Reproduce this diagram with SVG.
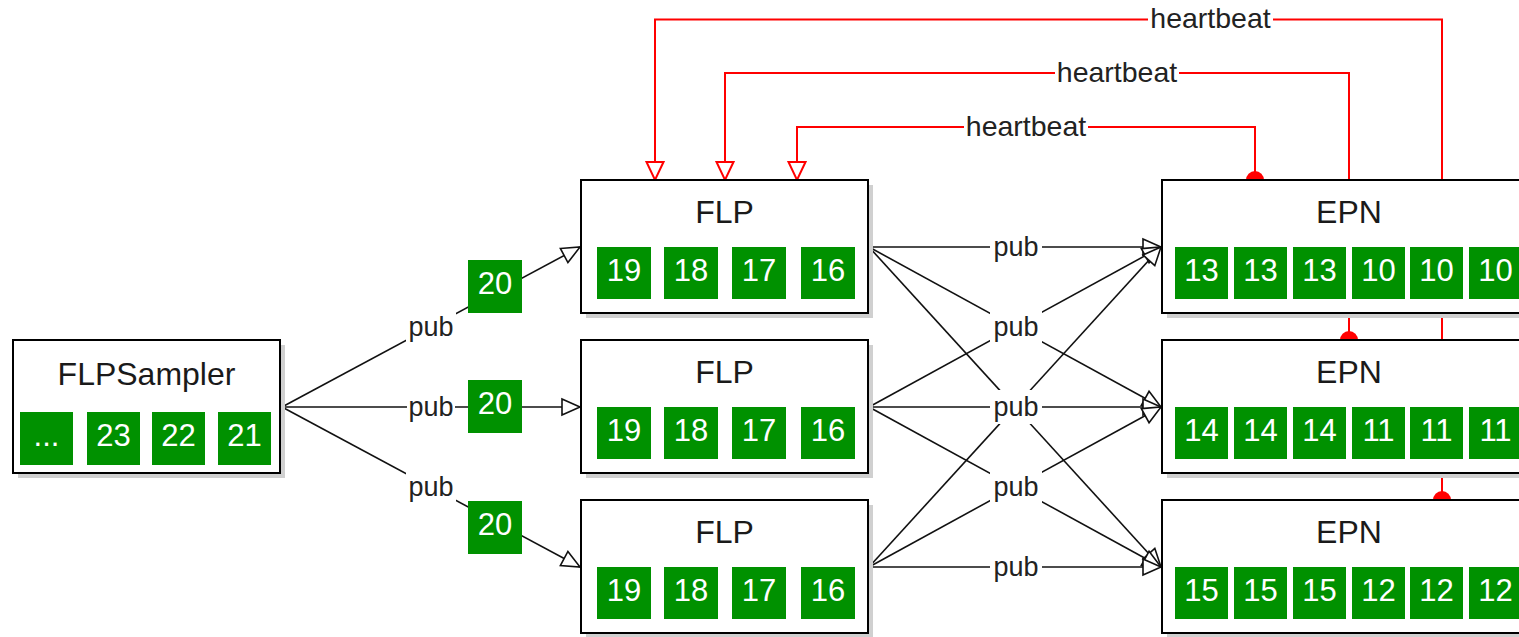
<svg xmlns="http://www.w3.org/2000/svg" width="1519" height="637" viewBox="0 0 1519 637">
<style>
text{font-family:"Liberation Sans",Arial,Helvetica,sans-serif}
.box{fill:#fff;stroke:#000;stroke-width:2}
.sh{fill:#d0d0d0}
.sq{fill:#009100}
.num{fill:#fff;font-size:31px;text-anchor:middle}
.title{fill:#1a1a1a;font-size:32px;text-anchor:middle}
.lbl{fill:#222;font-size:27px;text-anchor:middle}
.hb{fill:#222;font-size:28.5px;text-anchor:middle}
.bg{fill:#fff}
.pl{stroke:#111;stroke-width:1.6;fill:none;marker-end:url(#ab)}
.rl{stroke:#ff0000;stroke-width:2;fill:none;marker-end:url(#ar)}
</style>
<defs>
<marker id="ab" markerUnits="userSpaceOnUse" markerWidth="24" markerHeight="22" refX="20" refY="10" orient="auto">
<path d="M2,2 L20,10 L2,18 Z" fill="#fff" stroke="#111" stroke-width="1.6"/>
</marker>
<marker id="ar" markerUnits="userSpaceOnUse" markerWidth="24" markerHeight="22" refX="20" refY="10" orient="auto">
<path d="M2,1.5 L20,10 L2,18.5 Z" fill="#fff" stroke="#ff0000" stroke-width="2"/>
</marker>
</defs>
<rect width="1519" height="637" fill="#fff"/>
<g id="connectors">
<!-- sampler to FLPs -->
<line class="pl" x1="282" y1="407" x2="580" y2="247"/>
<line class="pl" x1="282" y1="407" x2="580" y2="407"/>
<line class="pl" x1="282" y1="407" x2="580" y2="567"/>
<!-- FLP to EPN -->
<line class="pl" x1="869" y1="247" x2="1161" y2="247"/>
<line class="pl" x1="869" y1="247" x2="1161" y2="407"/>
<line class="pl" x1="869" y1="247" x2="1161" y2="567"/>
<line class="pl" x1="869" y1="407" x2="1161" y2="247"/>
<line class="pl" x1="869" y1="407" x2="1161" y2="407"/>
<line class="pl" x1="869" y1="407" x2="1161" y2="567"/>
<line class="pl" x1="869" y1="567" x2="1161" y2="247"/>
<line class="pl" x1="869" y1="567" x2="1161" y2="407"/>
<line class="pl" x1="869" y1="567" x2="1161" y2="567"/>
<!-- pub labels -->
<rect class="bg" x="406" y="311" width="50" height="32"/><text class="lbl" x="431" y="336">pub</text>
<rect class="bg" x="407" y="391" width="48" height="32"/><text class="lbl" x="431" y="416">pub</text>
<rect class="bg" x="406" y="471" width="50" height="32"/><text class="lbl" x="431" y="496">pub</text>
<rect class="bg" x="990" y="231" width="52" height="32"/><text class="lbl" x="1016" y="256">pub</text>
<rect class="bg" x="990" y="310" width="52" height="34"/><text class="lbl" x="1016" y="336">pub</text>
<rect class="bg" x="990" y="390" width="52" height="34"/><text class="lbl" x="1016" y="416">pub</text>
<rect class="bg" x="990" y="470" width="52" height="34"/><text class="lbl" x="1016" y="496">pub</text>
<rect class="bg" x="990" y="551" width="52" height="32"/><text class="lbl" x="1016" y="576">pub</text>
<!-- heartbeats -->
<path class="rl" d="M1255,180 V127 H797 V180"/>
<path class="rl" d="M1349,340 V73 H725 V180"/>
<path class="rl" d="M1442,500 V19.5 H655 V180"/>
<circle cx="1255" cy="180" r="9" fill="#ff0000"/>
<circle cx="1349" cy="340" r="9" fill="#ff0000"/>
<circle cx="1442" cy="500" r="9" fill="#ff0000"/>
<rect class="bg" x="964" y="112" width="124" height="30"/><text class="hb" x="1026" y="136">heartbeat</text>
<rect class="bg" x="1055" y="58" width="124" height="30"/><text class="hb" x="1117" y="82">heartbeat</text>
<rect class="bg" x="1148" y="4" width="125" height="30"/><text class="hb" x="1210.5" y="28">heartbeat</text>
</g>
<g id="samples">
<rect class="sq" x="468" y="260" width="54" height="53"/><text class="num" x="495" y="294">20</text>
<rect class="sq" x="468" y="380" width="54" height="53"/><text class="num" x="495" y="414">20</text>
<rect class="sq" x="468" y="501" width="54" height="53"/><text class="num" x="495" y="535">20</text>
</g>
<g id="flpsampler">
<rect class="sh" x="18" y="345" width="267" height="133"/>
<rect class="box" x="13" y="340" width="267" height="133"/>
<text class="title" x="146.5" y="385">FLPSampler</text>
<rect class="sq" x="20" y="412" width="53" height="53"/><text class="num" x="46.5" y="446">...</text>
<rect class="sq" x="87" y="412" width="53" height="53"/><text class="num" x="113.5" y="446">23</text>
<rect class="sq" x="152" y="412" width="53" height="53"/><text class="num" x="178.5" y="446">22</text>
<rect class="sq" x="218" y="412" width="53" height="53"/><text class="num" x="244.5" y="446">21</text>
</g>
<g id="flp1">
<rect class="sh" x="586" y="185" width="287" height="133"/>
<rect class="box" x="581" y="180" width="287" height="133"/>
<text class="title" x="724.5" y="223">FLP</text>
<rect class="sq" x="597" y="247" width="54" height="52"/><text class="num" x="624" y="281">19</text>
<rect class="sq" x="664" y="247" width="54" height="52"/><text class="num" x="691" y="281">18</text>
<rect class="sq" x="732" y="247" width="54" height="52"/><text class="num" x="759" y="281">17</text>
<rect class="sq" x="801" y="247" width="54" height="52"/><text class="num" x="828" y="281">16</text>
</g>
<g id="flp2">
<rect class="sh" x="586" y="345" width="287" height="133"/>
<rect class="box" x="581" y="340" width="287" height="133"/>
<text class="title" x="724.5" y="383">FLP</text>
<rect class="sq" x="597" y="407" width="54" height="52"/><text class="num" x="624" y="441">19</text>
<rect class="sq" x="664" y="407" width="54" height="52"/><text class="num" x="691" y="441">18</text>
<rect class="sq" x="732" y="407" width="54" height="52"/><text class="num" x="759" y="441">17</text>
<rect class="sq" x="801" y="407" width="54" height="52"/><text class="num" x="828" y="441">16</text>
</g>
<g id="flp3">
<rect class="sh" x="586" y="505" width="287" height="133"/>
<rect class="box" x="581" y="500" width="287" height="133"/>
<text class="title" x="724.5" y="543">FLP</text>
<rect class="sq" x="597" y="567" width="54" height="52"/><text class="num" x="624" y="601">19</text>
<rect class="sq" x="664" y="567" width="54" height="52"/><text class="num" x="691" y="601">18</text>
<rect class="sq" x="732" y="567" width="54" height="52"/><text class="num" x="759" y="601">17</text>
<rect class="sq" x="801" y="567" width="54" height="52"/><text class="num" x="828" y="601">16</text>
</g>
<g id="epn1">
<rect class="sh" x="1167" y="185" width="374" height="133"/>
<rect class="box" x="1162" y="180" width="374" height="133"/>
<text class="title" x="1349" y="223">EPN</text>
<rect class="sq" x="1175" y="247" width="53" height="52"/><text class="num" x="1201.5" y="281">13</text>
<rect class="sq" x="1234" y="247" width="53" height="52"/><text class="num" x="1260.5" y="281">13</text>
<rect class="sq" x="1293" y="247" width="53" height="52"/><text class="num" x="1319.5" y="281">13</text>
<rect class="sq" x="1352" y="247" width="53" height="52"/><text class="num" x="1378.5" y="281">10</text>
<rect class="sq" x="1410" y="247" width="53" height="52"/><text class="num" x="1436.5" y="281">10</text>
<rect class="sq" x="1469" y="247" width="53" height="52"/><text class="num" x="1495.5" y="281">10</text>
</g>
<g id="epn2">
<rect class="sh" x="1167" y="345" width="374" height="133"/>
<rect class="box" x="1162" y="340" width="374" height="133"/>
<text class="title" x="1349" y="383">EPN</text>
<rect class="sq" x="1175" y="407" width="53" height="52"/><text class="num" x="1201.5" y="441">14</text>
<rect class="sq" x="1234" y="407" width="53" height="52"/><text class="num" x="1260.5" y="441">14</text>
<rect class="sq" x="1293" y="407" width="53" height="52"/><text class="num" x="1319.5" y="441">14</text>
<rect class="sq" x="1352" y="407" width="53" height="52"/><text class="num" x="1378.5" y="441">11</text>
<rect class="sq" x="1410" y="407" width="53" height="52"/><text class="num" x="1436.5" y="441">11</text>
<rect class="sq" x="1469" y="407" width="53" height="52"/><text class="num" x="1495.5" y="441">11</text>
</g>
<g id="epn3">
<rect class="sh" x="1167" y="505" width="374" height="133"/>
<rect class="box" x="1162" y="500" width="374" height="133"/>
<text class="title" x="1349" y="543">EPN</text>
<rect class="sq" x="1175" y="567" width="53" height="52"/><text class="num" x="1201.5" y="601">15</text>
<rect class="sq" x="1234" y="567" width="53" height="52"/><text class="num" x="1260.5" y="601">15</text>
<rect class="sq" x="1293" y="567" width="53" height="52"/><text class="num" x="1319.5" y="601">15</text>
<rect class="sq" x="1352" y="567" width="53" height="52"/><text class="num" x="1378.5" y="601">12</text>
<rect class="sq" x="1410" y="567" width="53" height="52"/><text class="num" x="1436.5" y="601">12</text>
<rect class="sq" x="1469" y="567" width="53" height="52"/><text class="num" x="1495.5" y="601">12</text>
</g>
</svg>
